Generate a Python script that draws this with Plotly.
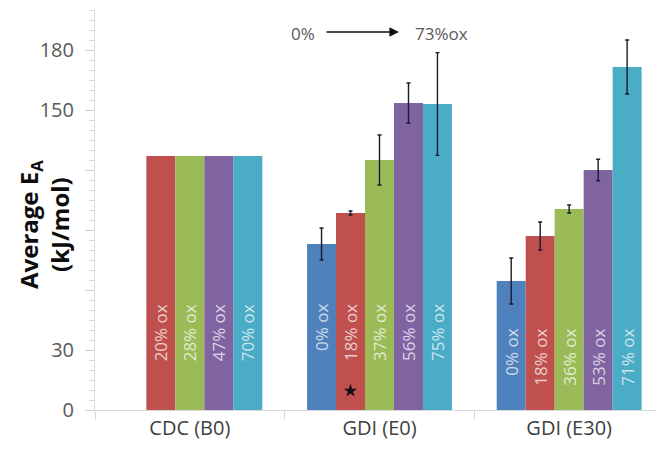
import plotly.graph_objects as go

categories = ["CDC (B0)", "GDI (E0)", "GDI (E30)"]
series_names = ["s1", "s2", "s3", "s4", "s5"]
colors = ["#4F81BD", "#C0504D", "#9BBB59", "#8064A2", "#4BACC6"]

# values per series (one entry per category); None = no bar
values = [
    [None, 83.0, 64.5],
    [127.0, 98.5, 87.0],
    [127.0, 125.0, 100.5],
    [127.0, 153.5, 120.0],
    [127.0, 153.0, 171.5],
]
errors = [
    [None, 8.0, 11.5],
    [None, 1.0, 7.0],
    [None, 12.5, 2.0],
    [None, 10.0, 5.4],
    [None, 25.7, 13.5],
]
bar_labels = [
    [None, "0% ox", "0% ox"],
    ["20% ox", "18% ox", "18% ox"],
    ["28% ox", "37% ox", "36% ox"],
    ["47% ox", "56% ox", "53% ox"],
    ["70% ox", "75% ox", "71% ox"],
]
label_top = [54.0, 54.0, 41.5]  # top end of the rotated labels, per category

y_tickvals = [0, 30, 60, 90, 120, 150, 180]
y_ticktext = ["0", "30", "", "", "", "150", "180"]

star_category = 1
star_series = 1
star_value = 9.6

bargap = 0.236
slot_w = (1 - bargap) / len(series_names)

FONT = "Open Sans"
GREY = "#595959"

# figure is offset 8px by the page body margin
W, H = 656, 447
ML, MR, MT, MB = 87, 0, 2, 45
PW, PH = W - ML - MR, H - MT - MB


def px(xp):  # page x -> paper
    return (xp - 8 - ML) / PW


def py(yp):  # page y -> paper
    return (H - MB - (yp - 8)) / PH


def slot_x(i, j):
    return i + (j - 2) * slot_w


fig = go.Figure()
for j, name in enumerate(series_names):
    fig.add_trace(go.Bar(
        x=categories, y=values[j], name=name,
        marker=dict(color=colors[j], line=dict(width=0)),
        hoverinfo="skip",
    ))

# error bars, drawn on an invisible numeric overlay axis at each bar centre
for j in range(len(series_names)):
    xs, ys, es = [], [], []
    for i in range(len(categories)):
        if errors[j][i] is None or values[j][i] is None:
            continue
        xs.append(slot_x(i, j))
        ys.append(values[j][i])
        es.append(errors[j][i])
    fig.add_trace(go.Scatter(
        x=xs, y=ys, xaxis="x2", mode="markers",
        marker=dict(size=1, color="rgba(0,0,0,0)"),
        error_y=dict(type="data", array=es, visible=True,
                     color="#1a1a2e", thickness=1.4, width=2),
        hoverinfo="skip", showlegend=False,
    ))

# star marker
fig.add_trace(go.Scatter(
    x=[slot_x(star_category, star_series)], y=[star_value], xaxis="x2",
    mode="markers",
    marker=dict(symbol="star", size=10, color="#111111"),
    hoverinfo="skip", showlegend=False,
))

annotations = []
for j in range(len(series_names)):
    for i in range(len(categories)):
        t = bar_labels[j][i]
        if t is None:
            continue
        annotations.append(dict(
            x=slot_x(i, j), y=label_top[i], xref="x", yref="y",
            text=t, textangle=-90, showarrow=False,
            xanchor="center", yanchor="top",
            font=dict(family=FONT, size=17, color="rgba(255,255,255,0.72)"),
        ))

# y-axis title
annotations.append(dict(
    xref="paper", yref="paper", x=px(44), y=py(225),
    text="<b>Average E<sub>A</sub></b><br><b>(kJ/mol)</b>",
    textangle=-90, showarrow=False, xanchor="center", yanchor="middle",
    font=dict(family=FONT, size=24, color="#0d0d0d"),
))

# arrow annotation 0% -> 73%ox
annotations.append(dict(
    xref="paper", yref="paper", x=px(303), y=py(33),
    text="0%", showarrow=False, xanchor="center", yanchor="middle",
    font=dict(family=FONT, size=17, color=GREY)))
annotations.append(dict(
    xref="paper", yref="paper", x=px(441), y=py(33),
    text="73%ox", showarrow=False, xanchor="center", yanchor="middle",
    font=dict(family=FONT, size=17, color=GREY)))
annotations.append(dict(
    xref="paper", yref="paper", axref="pixel", ayref="pixel",
    x=px(399), y=py(32), ax=-74, ay=0,
    text="", showarrow=True, arrowhead=2, arrowsize=1.2, arrowwidth=1.6,
    arrowcolor="#111111"))

fig.update_layout(
    width=W, height=H,
    margin=dict(l=ML, r=MR, t=MT, b=MB),
    paper_bgcolor="white", plot_bgcolor="white",
    barmode="group", bargap=bargap, bargroupgap=0,
    showlegend=False,
    font=dict(family=FONT, color=GREY),
    annotations=annotations,
    xaxis=dict(
        type="category", categoryorder="array", categoryarray=categories,
        range=[-0.5, 2.5],
        showline=True, linecolor="#d9d9d9", linewidth=1,
        tickson="boundaries", ticks="outside", ticklen=9, tickcolor="#d9d9d9",
        tickfont=dict(family=FONT, size=20, color="#404040"),
        showgrid=False, zeroline=False,
    ),
    xaxis2=dict(
        overlaying="x", range=[-0.5, 2.5], visible=False, showgrid=False,
    ),
    yaxis=dict(
        range=[0, 200], tickmode="array", tickvals=y_tickvals, ticktext=y_ticktext,
        showline=True, linecolor="#d9d9d9", linewidth=1,
        ticks="outside", ticklen=9, tickcolor="#d0d0d0",
        ticklabelstandoff=7,
        minor=dict(dtick=5, tick0=0, ticks="outside", ticklen=5, tickcolor="#d9d9d9", showgrid=False),
        tickfont=dict(family=FONT, size=20, color=GREY),
        showgrid=False, zeroline=False,
    ),
)

fig.write_html("out.html")
